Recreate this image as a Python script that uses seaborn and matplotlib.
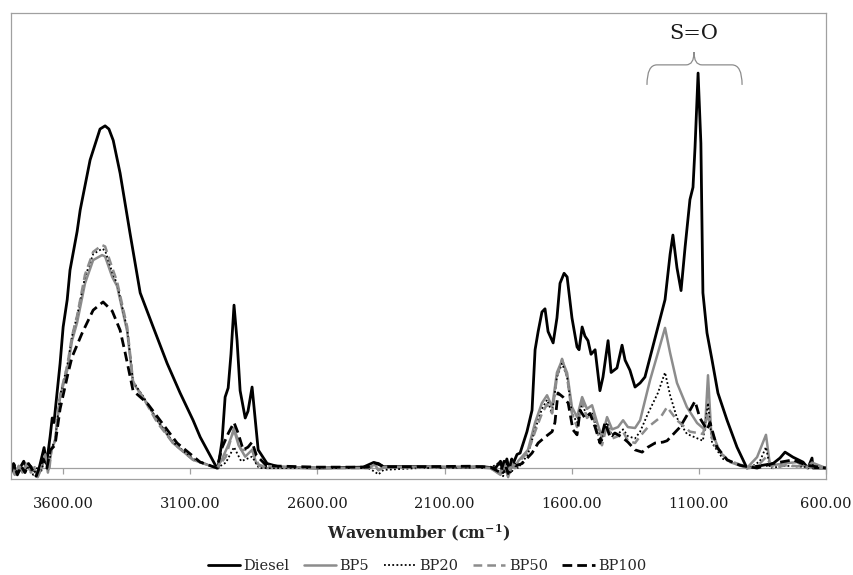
import numpy as np
import pandas as pd
import matplotlib.pyplot as plt
import seaborn as sns
from matplotlib.path import Path
from matplotlib.patches import PathPatch

# espectros FTIR (numero de onda en cm-1, absorbancia relativa)
diesel_wn = [3805, 3795, 3785, 3770, 3755, 3745, 3730, 3715, 3700, 3690, 3675, 3665, 3651, 3643, 3636, 3624,
             3612, 3600, 3584, 3573, 3545, 3533, 3494, 3455, 3435, 3420, 3403, 3376, 3337, 3297, 3246, 3191,
             3140, 3089, 3061, 3034, 3000, 2991, 2975, 2963, 2951, 2940, 2928, 2916, 2904, 2884, 2873, 2857,
             2845, 2833, 2798, 2747, 2600, 2420, 2380, 2360, 2340, 2200, 2100, 2000, 1950, 1900, 1880, 1870,
             1855, 1845, 1830, 1815, 1803, 1776, 1756, 1744, 1732, 1717, 1705, 1693, 1673, 1658, 1646, 1630,
             1618, 1599, 1579, 1571, 1559, 1548, 1536, 1524, 1508, 1489, 1477, 1457, 1445, 1422, 1402, 1390,
             1371, 1351, 1331, 1312, 1284, 1261, 1233, 1213, 1202, 1186, 1170, 1154, 1135, 1123, 1115, 1103,
             1092, 1084, 1068, 1048, 1025, 989, 950, 911, 871, 808, 781, 761, 730, 690, 671, 655, 651, 624, 600]
diesel_abs = [-0.005, 0.01, -0.01, 0.0, 0.015, 0.0, 0.005, -0.005, -0.012, 0.01, 0.045, 0.01, 0.07, 0.11, 0.10, 0.165,
              0.23, 0.31, 0.37, 0.435, 0.52, 0.567, 0.677, 0.745, 0.752, 0.745, 0.72, 0.648, 0.516, 0.385, 0.31, 0.23,
              0.165, 0.105, 0.068, 0.04, 0.005, 0.0, 0.06, 0.156, 0.176, 0.25, 0.358, 0.28, 0.17, 0.11, 0.125, 0.178,
              0.11, 0.04, 0.01, 0.002, 0.0, 0.002, 0.012, 0.01, 0.003, 0.003, 0.002, 0.002, 0.003, 0.0, 0.015, -0.01,
              0.02, -0.005, 0.01, 0.03, 0.033, 0.08, 0.127, 0.26, 0.30, 0.343, 0.35, 0.30, 0.275, 0.33, 0.406, 0.428,
              0.42, 0.33, 0.266, 0.26, 0.31, 0.29, 0.28, 0.25, 0.26, 0.17, 0.20, 0.28, 0.21, 0.22, 0.27, 0.237,
              0.215, 0.178, 0.187, 0.20, 0.26, 0.31, 0.37, 0.47, 0.512, 0.44, 0.39, 0.486, 0.59, 0.617, 0.705, 0.868,
              0.714, 0.385, 0.297, 0.237, 0.165, 0.105, 0.046, 0.0, 0.004, 0.01, 0.022, 0.035, 0.024, 0.013, 0.0, 0.022, 0.0, 0.0, 0.0]

bp5_wn = [3805, 3790, 3775, 3760, 3745, 3730, 3715, 3700, 3685, 3670, 3660, 3645, 3632, 3612, 3584, 3565,
          3545, 3514, 3482, 3447, 3435, 3407, 3388, 3348, 3325, 3286, 3230, 3168, 3089, 2995, 2975, 2951,
          2928, 2910, 2884, 2857, 2840, 2800, 2600, 2400, 2375, 2360, 2340, 2200, 2000, 1920, 1880, 1865,
          1850, 1835, 1822, 1811, 1772, 1744, 1717, 1697, 1677, 1658, 1638, 1618, 1599, 1579, 1559, 1540,
          1520, 1500, 1481, 1461, 1441, 1418, 1398, 1379, 1351, 1331, 1292, 1261, 1233, 1213, 1186, 1147,
          1107, 1076, 1064, 1052, 1017, 977, 911, 871, 836, 820, 769, 714, 675, 655, 600]
bp5_abs = [0.0, -0.015, 0.005, -0.01, 0.008, -0.005, 0.0, -0.02, 0.0, 0.03, -0.01, 0.04, 0.06, 0.156, 0.215, 0.28,
           0.32, 0.406, 0.457, 0.468, 0.465, 0.42, 0.40, 0.30, 0.187, 0.156, 0.105, 0.055, 0.018, 0.0, 0.02, 0.05,
           0.084, 0.05, 0.025, 0.04, 0.01, 0.0, 0.0, 0.0, 0.008, -0.004, 0.002, 0.002, 0.002, 0.0, -0.015, 0.01,
           -0.02, 0.01, 0.0, 0.015, 0.04, 0.1, 0.143, 0.16, 0.134, 0.21, 0.237, 0.209, 0.134, 0.112, 0.156, 0.13,
           0.138, 0.1, 0.068, 0.112, 0.085, 0.09, 0.105, 0.09, 0.088, 0.105, 0.193, 0.253, 0.308, 0.253, 0.187, 0.134,
           0.099, 0.084, 0.204, 0.084, 0.035, 0.013, 0.0, 0.024, 0.073, 0.005, 0.01, 0.013, 0.0, 0.012, 0.0]

bp20_wn = [3805, 3792, 3778, 3762, 3748, 3733, 3718, 3703, 3688, 3672, 3660, 3645, 3632, 3612, 3584, 3565,
           3545, 3514, 3482, 3447, 3435, 3407, 3388, 3348, 3325, 3286, 3230, 3168, 3089, 2995, 2960, 2928,
           2900, 2857, 2830, 2600, 2400, 2375, 2360, 2340, 2200, 2000, 1920, 1885, 1870, 1852, 1838, 1822,
           1811, 1772, 1744, 1717, 1697, 1677, 1658, 1638, 1618, 1599, 1579, 1559, 1540, 1520, 1500, 1481,
           1461, 1441, 1418, 1398, 1379, 1351, 1331, 1300, 1261, 1233, 1213, 1186, 1147, 1084, 1064, 1048,
           1005, 900, 860, 836, 820, 760, 600]
bp20_abs = [-0.01, 0.005, -0.012, 0.002, -0.008, 0.006, -0.015, 0.0, -0.01, 0.02, -0.005, 0.045, 0.06, 0.16, 0.225, 0.29,
            0.335, 0.42, 0.47, 0.482, 0.478, 0.43, 0.405, 0.305, 0.19, 0.158, 0.105, 0.057, 0.02, 0.0, 0.012, 0.046,
            0.015, 0.025, 0.0, 0.0, 0.0, -0.008, -0.014, -0.004, 0.0, 0.001, 0.0, 0.012, -0.018, 0.008, -0.012, 0.01,
            0.0, 0.03, 0.085, 0.13, 0.15, 0.12, 0.2, 0.23, 0.2, 0.12, 0.1, 0.14, 0.115, 0.12, 0.085, 0.06,
            0.1, 0.07, 0.075, 0.085, 0.07, 0.065, 0.08, 0.12, 0.165, 0.21, 0.16, 0.11, 0.075, 0.06, 0.143, 0.055,
            0.02, 0.0, 0.015, 0.046, 0.0, 0.005, 0.0]

bp50_wn = [3805, 3788, 3772, 3757, 3742, 3727, 3712, 3698, 3683, 3668, 3655, 3645, 3632, 3612, 3584, 3565,
           3545, 3514, 3482, 3447, 3435, 3407, 3388, 3348, 3325, 3286, 3230, 3168, 3089, 2995, 2960, 2928,
           2900, 2857, 2830, 2600, 2400, 2375, 2360, 2340, 2200, 2000, 1920, 1882, 1868, 1853, 1840, 1825,
           1811, 1772, 1744, 1717, 1697, 1677, 1658, 1638, 1618, 1599, 1579, 1559, 1540, 1520, 1500, 1481,
           1461, 1441, 1418, 1398, 1379, 1351, 1331, 1300, 1250, 1225, 1186, 1135, 1084, 1064, 1044, 989,
           900, 860, 836, 808, 760, 600]
bp50_abs = [0.005, -0.012, 0.004, -0.008, 0.01, -0.01, 0.002, -0.015, 0.005, 0.025, -0.008, 0.05, 0.06, 0.16, 0.225, 0.29,
            0.335, 0.425, 0.475, 0.49, 0.487, 0.44, 0.41, 0.31, 0.19, 0.155, 0.1, 0.055, 0.018, 0.0, 0.025, 0.088,
            0.04, 0.04, 0.005, 0.0, 0.0, 0.006, -0.005, 0.002, 0.001, 0.002, 0.0, -0.012, 0.012, -0.015, 0.008, 0.0,
            0.012, 0.035, 0.08, 0.12, 0.14, 0.12, 0.2, 0.24, 0.2, 0.12, 0.09, 0.145, 0.11, 0.12, 0.08, 0.05,
            0.095, 0.065, 0.07, 0.08, 0.06, 0.055, 0.07, 0.09, 0.112, 0.134, 0.105, 0.08, 0.075, 0.12, 0.055, 0.018,
            0.0, 0.01, 0.024, 0.0, 0.006, 0.0]

bp100_wn = [3805, 3793, 3780, 3765, 3750, 3736, 3720, 3706, 3692, 3678, 3664, 3650, 3632, 3612, 3580, 3565,
            3525, 3482, 3443, 3407, 3376, 3356, 3325, 3270, 3219, 3152, 3061, 2995, 2975, 2950, 2928, 2912,
            2892, 2873, 2857, 2840, 2800, 2600, 2400, 2378, 2360, 2340, 2200, 2000, 1920, 1880, 1866, 1850,
            1836, 1820, 1795, 1756, 1732, 1705, 1677, 1666, 1654, 1634, 1614, 1595, 1579, 1567, 1548, 1528,
            1508, 1489, 1469, 1449, 1430, 1402, 1379, 1351, 1323, 1300, 1272, 1241, 1225, 1174, 1135, 1115,
            1096, 1068, 1056, 1029, 989, 938, 871, 808, 730, 675, 600]
bp100_abs = [-0.008, 0.008, -0.015, 0.004, -0.01, 0.01, -0.005, -0.018, 0.003, 0.02, 0.0, 0.04, 0.05, 0.13, 0.21, 0.244,
             0.297, 0.347, 0.365, 0.345, 0.303, 0.253, 0.17, 0.143, 0.105, 0.055, 0.013, 0.0, 0.045, 0.077, 0.1, 0.077,
             0.04, 0.046, 0.057, 0.028, 0.005, 0.002, 0.002, 0.012, 0.008, 0.003, 0.003, 0.004, 0.002, -0.01, 0.015, -0.012,
             0.02, 0.005, 0.01, 0.033, 0.055, 0.068, 0.08, 0.1, 0.165, 0.156, 0.143, 0.084, 0.073, 0.127, 0.11, 0.12,
             0.09, 0.055, 0.1, 0.068, 0.077, 0.068, 0.057, 0.04, 0.035, 0.046, 0.055, 0.057, 0.06, 0.09, 0.127, 0.147,
             0.11, 0.084, 0.1, 0.046, 0.018, 0.006, 0.0, 0.01, 0.018, 0.006, 0.0]

muestras = ["Diesel", "BP5", "BP20", "BP50", "BP100"]
ticks_wn = [3600, 3100, 2600, 2100, 1600, 1100, 600]

# armamos un dataframe largo con todas las muestras
df = pd.concat([
    pd.DataFrame({"wn": diesel_wn, "abs": diesel_abs, "muestra": "Diesel"}),
    pd.DataFrame({"wn": bp5_wn, "abs": bp5_abs, "muestra": "BP5"}),
    pd.DataFrame({"wn": bp20_wn, "abs": bp20_abs, "muestra": "BP20"}),
    pd.DataFrame({"wn": bp50_wn, "abs": bp50_abs, "muestra": "BP50"}),
    pd.DataFrame({"wn": bp100_wn, "abs": bp100_abs, "muestra": "BP100"}),
], ignore_index=True)

estilos = {
    "Diesel": dict(color="black", linewidth=2.0, linestyle="-"),
    "BP5": dict(color="#8c8c8c", linewidth=1.8, linestyle="-"),
    "BP20": dict(color="black", linewidth=1.3, linestyle=(0, (1, 1.3))),
    "BP50": dict(color="#8c8c8c", linewidth=1.8, linestyle=(0, (3.5, 2))),
    "BP100": dict(color="black", linewidth=2.0, linestyle=(0, (3.5, 1.8))),
}

sns.set_style("white")
plt.rcParams["font.family"] = ["DejaVu Serif"]
plt.rcParams["mathtext.fontset"] = "dejavuserif"

fig = plt.figure(figsize=(8.54, 5.75), dpi=100)
ax = fig.add_axes([0.0129, 0.167, 0.9543, 0.8104])

for m in muestras:
    sub = df[df["muestra"] == m]
    sns.lineplot(data=sub, x="wn", y="abs", ax=ax, label=m, estimator=None, sort=False, **estilos[m])

ymin, ymax = -0.024, 1.0
ax.set_xlim(3805, 600)
ax.set_ylim(ymin, ymax)
ax.set_xticks(ticks_wn)
ax.xaxis.set_major_formatter("{x:.2f}")
ax.tick_params(axis="x", length=0, pad=13, labelsize=10.5, labelcolor="#1a1a1a")
ax.set_yticks([])
ax.set_ylabel("")
for s in ax.spines.values():
    s.set_color("#a0a0a0")
    s.set_linewidth(0.9)
ax.set_xlabel(r"Wavenumber (cm$^{\mathbf{-1}}$)", fontweight="bold", fontsize=11.5, labelpad=8)

# eje horizontal en y=0 con marcas, estilo excel
sec = ax.secondary_xaxis((0 - ymin) / (ymax - ymin))
sec.set_xticks(ticks_wn)
sec.tick_params(direction="out", length=4, width=0.9, color="#a0a0a0", labelbottom=False, labeltop=False)
for s in sec.spines.values():
    s.set_color("#a0a0a0")
    s.set_linewidth(0.9)

# llave y etiqueta S=O
verts = [(1304, 0.842), (1304, 0.886), (1265, 0.886), (1150, 0.886), (1119, 0.886), (1119, 0.914),
         (1119, 0.886), (1088, 0.886), (970, 0.886), (930, 0.886), (930, 0.842)]
codes = [Path.MOVETO, Path.CURVE3, Path.CURVE3, Path.LINETO, Path.CURVE3, Path.CURVE3,
         Path.CURVE3, Path.CURVE3, Path.LINETO, Path.CURVE3, Path.CURVE3]
ax.add_patch(PathPatch(Path(verts, codes), facecolor="none", edgecolor="#8c8c8c", linewidth=0.9))
ax.text(1119, 0.956, "S=O", ha="center", va="center", fontsize=15, color="#1a1a1a")

handles, labels = ax.get_legend_handles_labels()
if ax.get_legend() is not None:
    ax.get_legend().remove()
fig.legend(handles, labels, loc="center", bbox_to_anchor=(0.5, 0.016), ncol=5, frameon=False,
           fontsize=10.5, handlelength=2.2, columnspacing=1.0, handletextpad=0.25,
           borderpad=0.2, borderaxespad=0.0)

fig.savefig("out.png", dpi=100)
